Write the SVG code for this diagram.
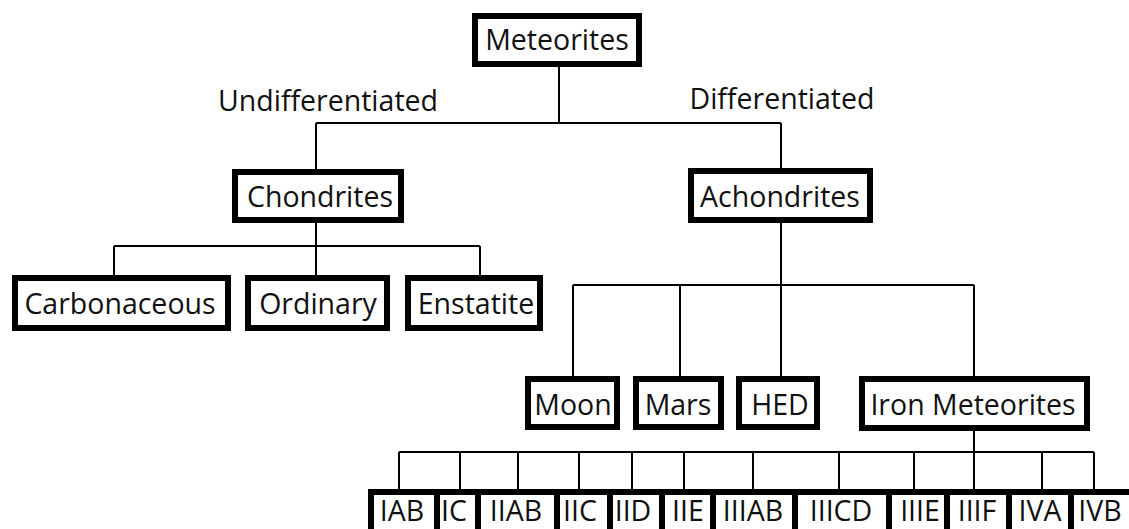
<svg xmlns="http://www.w3.org/2000/svg" width="1129" height="529" viewBox="0 0 1129 529">
<style>
.box{fill:#fff;stroke:#000;stroke-width:6}
.t{font-family:"Open Sans","Noto Sans",sans-serif;font-size:28.5px;fill:#111;text-anchor:middle}
.c{fill:none;stroke:#000;stroke-width:2}
</style>
<rect width="1129" height="529" fill="#fff"/>
<g id="connectors" class="c">
<path d="M559,67V123M316,123H781M316,123V170M781,123V170"/>
<path d="M316,222V246M114,246H480M114,246V276M316,246V276M480,246V276"/>
<path d="M781,222V285M573,285H974M573,285V378M680,285V378M781,285V378M974,285V378"/>
<path d="M974,430V490M399,452H1094M399,452V490M460,452V490M518,452V490M579,452V490M632,452V490M684,452V490M753,452V490M839,452V490M914,452V490M1042,452V490M1094,452V490"/>
</g>
<text class="t" x="328" y="111">Undifferentiated</text>
<text class="t" x="782" y="109">Differentiated</text>
<g id="meteorites"><rect class="box" x="475" y="16" width="164" height="48"/><text class="t" x="557" y="50">Meteorites</text></g>
<g id="chondrites"><rect class="box" x="235" y="172" width="166" height="48"/><text class="t" x="320" y="207">Chondrites</text></g>
<g id="achondrites"><rect class="box" x="691" y="171" width="179" height="49"/><text class="t" x="780" y="207">Achondrites</text></g>
<g id="carbonaceous"><rect class="box" x="15" y="278" width="213" height="50"/><text class="t" x="120" y="314">Carbonaceous</text></g>
<g id="ordinary"><rect class="box" x="248" y="278" width="139" height="50"/><text class="t" x="318" y="314">Ordinary</text></g>
<g id="enstatite"><rect class="box" x="408" y="278" width="132" height="50"/><text class="t" x="476" y="314">Enstatite</text></g>
<g id="moon"><rect class="box" x="528" y="379" width="89" height="48"/><text class="t" x="573" y="415">Moon</text></g>
<g id="mars"><rect class="box" x="636" y="379" width="85" height="48"/><text class="t" x="678" y="415">Mars</text></g>
<g id="hed"><rect class="box" x="739" y="379" width="78" height="48"/><text class="t" x="780" y="415">HED</text></g>
<g id="iron-meteorites"><rect class="box" x="862" y="379" width="225" height="49"/><text class="t" x="973" y="415">Iron Meteorites</text></g>
<g id="iab"><rect class="box" x="371" y="492" width="66" height="60"/><text class="t" x="402" y="521">IAB</text></g>
<g id="ic"><rect class="box" x="437" y="492" width="41" height="60"/><text class="t" x="454" y="521">IC</text></g>
<g id="iiab"><rect class="box" x="478" y="492" width="79" height="60"/><text class="t" x="516" y="521">IIAB</text></g>
<g id="iic"><rect class="box" x="557" y="492" width="53" height="60"/><text class="t" x="580" y="521">IIC</text></g>
<g id="iid"><rect class="box" x="610" y="492" width="52" height="60"/><text class="t" x="633" y="521">IID</text></g>
<g id="iie"><rect class="box" x="662" y="492" width="51" height="60"/><text class="t" x="688" y="521">IIE</text></g>
<g id="iiiab"><rect class="box" x="713" y="492" width="82" height="60"/><text class="t" x="753" y="521">IIIAB</text></g>
<g id="iiicd"><rect class="box" x="795" y="492" width="94" height="60"/><text class="t" x="841" y="521">IIICD</text></g>
<g id="iiie"><rect class="box" x="889" y="492" width="58" height="60"/><text class="t" x="920" y="521">IIIE</text></g>
<g id="iiif"><rect class="box" x="947" y="492" width="62" height="60"/><text class="t" x="977" y="521">IIIF</text></g>
<g id="iva"><rect class="box" x="1009" y="492" width="62" height="60"/><text class="t" x="1040" y="521">IVA</text></g>
<g id="ivb"><rect class="box" x="1071" y="492" width="70" height="60"/><text class="t" x="1100" y="521">IVB</text></g>
</svg>
